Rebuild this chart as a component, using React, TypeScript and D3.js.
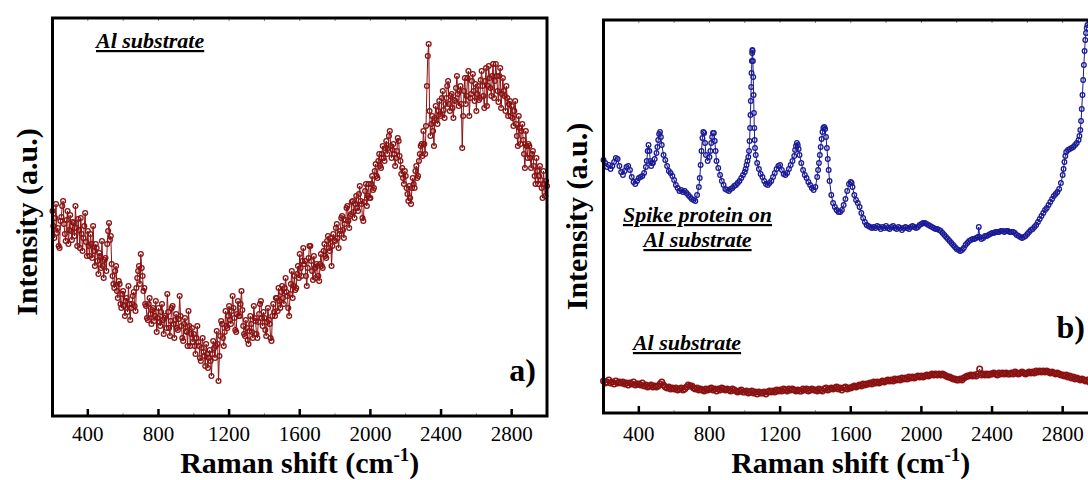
import React from 'react';
import * as d3 from 'd3';

// Raman shift grids (cm-1)
const shiftGridA: number[] = d3.range(200, 3001, 5);
const shiftGridB: number[] = d3.range(200, 3001, 10);
const majorTicks = [400, 800, 1200, 1600, 2000, 2400, 2800];
const minorTicks = [200, 600, 1000, 1400, 1800, 2200, 2600, 3000];
const topTicks = d3.range(200, 3001, 200);

// Panel a) Al substrate intensity (a.u.), one value per shiftGridA entry (rows of 100 cm-1)
const alSubstrateA = [
  205, 190, 178, 198, 212, 183, 188, 170, 168, 195, 199, 210, 215, 192, 182, 175, 196, 205, 172, 186,
  201, 185, 176, 194, 193, 180, 210, 188, 170, 197, 186, 168, 198, 182, 165, 178, 190, 203, 174, 160,
  185, 170, 160, 182, 172, 158, 190, 165, 150, 172, 168, 155, 142, 163, 160, 148, 175, 150, 138, 156,
  158, 145, 172, 185, 193, 176, 180, 152, 140, 132, 128, 145, 150, 125, 118, 135, 132, 112, 108, 122,
  125, 110, 100, 115, 118, 104, 130, 112, 96, 108, 112, 120, 124, 110, 105, 128, 138, 145, 150, 132,
  162, 148, 140, 125, 128, 112, 110, 98, 96, 112, 118, 102, 92, 106, 108, 95, 100, 115, 84, 98,
  108, 94, 90, 104, 112, 96, 82, 98, 100, 88, 122, 104, 88, 80, 95, 108, 110, 92, 78, 96,
  102, 88, 86, 97, 120, 100, 90, 78, 75, 92, 98, 85, 84, 70, 105, 90, 70, 82, 88, 74,
  82, 70, 62, 78, 90, 74, 70, 58, 55, 68, 78, 64, 60, 50, 72, 62, 48, 58, 66, 55,
  40, 62, 75, 68, 58, 70, 85, 72, 35, 60, 80, 95, 92, 78, 70, 84, 105, 90, 88, 100,
  110, 96, 92, 105, 120, 108, 98, 86, 84, 102, 115, 100, 100, 112, 125, 106, 90, 82, 80, 96,
  88, 76, 72, 85, 100, 92, 84, 78, 110, 98, 95, 82, 78, 94, 102, 112, 115, 98, 90, 104,
  98, 86, 80, 94, 108, 96, 92, 78, 75, 100, 112, 104, 100, 118, 118, 105, 128, 115, 108, 124,
  130, 118, 112, 128, 138, 124, 120, 108, 100, 122, 132, 145, 118, 130, 140, 126, 128, 142, 150, 138,
  162, 148, 140, 155, 168, 152, 155, 140, 130, 148, 158, 170, 170, 155, 145, 136, 160, 148, 138, 152,
  150, 140, 135, 152, 162, 150, 148, 165, 172, 160, 158, 175, 180, 168, 165, 178, 150, 170, 182, 176,
  175, 188, 192, 178, 168, 182, 185, 198, 200, 186, 178, 192, 196, 208, 210, 195, 188, 200, 202, 214,
  215, 204, 198, 212, 220, 208, 205, 222, 230, 215, 212, 198, 195, 214, 225, 232, 210, 220, 232, 218,
  218, 232, 240, 226, 228, 245, 252, 240, 238, 255, 262, 250, 248, 262, 270, 258, 255, 268, 275, 262,
  268, 280, 285, 270, 258, 266, 272, 262, 250, 258, 265, 278, 275, 260, 255, 242, 248, 238, 232, 245,
  240, 228, 222, 215, 230, 218, 212, 228, 238, 232, 228, 245, 250, 238, 240, 255, 262, 270, 272, 260,
  285, 272, 262, 290, 330, 360, 372, 305, 280, 292, 300, 285, 270, 298, 310, 296, 292, 305, 315, 302,
  300, 318, 325, 306, 298, 312, 318, 330, 335, 312, 305, 320, 322, 308, 298, 316, 315, 328, 340, 322,
  310, 325, 330, 312, 268, 300, 325, 338, 312, 320, 338, 345, 300, 318, 322, 335, 342, 325, 315, 332,
  305, 322, 330, 316, 318, 336, 345, 330, 320, 308, 335, 348, 310, 330, 350, 338, 328, 320, 340, 352,
  318, 335, 352, 340, 325, 314, 340, 348, 308, 322, 338, 325, 320, 305, 330, 318, 300, 312, 315, 300,
  310, 298, 290, 305, 315, 292, 280, 270, 300, 288, 272, 285, 292, 276, 262, 248, 285, 270, 258, 272,
  270, 258, 248, 262, 265, 250, 240, 232, 258, 245, 232, 240, 250, 236, 228, 218, 245, 232, 220, 235,
  230,
];

// Panel b) Al substrate intensity (a.u.), one value per shiftGridB entry
const alSubstrateB = [
  32, 30, 31, 33, 30, 31, 29, 32, 30, 31,
  30, 31, 29, 30, 28, 30, 29, 31, 28, 29,
  29, 28, 30, 27, 28, 26, 27, 28, 26, 27,
  26, 27, 29, 31, 28, 26, 25, 26, 24, 25,
  24, 25, 23, 24, 25, 23, 24, 26, 28, 27,
  27, 25, 24, 25, 23, 24, 23, 22, 24, 23,
  24, 25, 23, 24, 22, 24, 23, 25, 24, 23,
  24, 23, 22, 24, 23, 22, 21, 22, 23, 21,
  21, 22, 20, 21, 22, 20, 21, 19, 21, 20,
  20, 21, 19, 21, 22, 21, 22, 21, 23, 22,
  23, 22, 24, 23, 22, 24, 23, 24, 23, 22,
  23, 22, 22, 24, 23, 24, 22, 23, 24, 23,
  23, 22, 24, 23, 22, 24, 25, 23, 24, 25,
  24, 25, 26, 24, 25, 23, 25, 26, 24, 25,
  25, 26, 27, 26, 27, 28, 27, 29, 28, 29,
  29, 30, 29, 31, 30, 31, 30, 31, 32, 31,
  32, 33, 32, 33, 32, 34, 33, 34, 33, 35,
  34, 35, 34, 36, 35, 36, 35, 36, 37, 36,
  37, 36, 37, 38, 37, 38, 39, 38, 39, 38,
  39, 38, 39, 38, 37, 36, 36, 35, 34, 34,
  33, 33, 34, 33, 35, 36, 37, 37, 38, 37,
  38, 37, 39, 44, 38, 39, 38, 39, 38, 39,
  39, 40, 39, 38, 40, 39, 40, 39, 40, 39,
  39, 40, 39, 41, 40, 39, 40, 41, 40, 39,
  40, 41, 40, 41, 40, 42, 41, 42, 41, 42,
  41, 42, 41, 40, 41, 40, 39, 40, 39, 38,
  38, 37, 38, 36, 37, 35, 36, 34, 35, 34,
  33, 34, 33, 32, 33, 31, 32, 31, 32, 30,
  31,
];

// Panel b) Spike protein on Al substrate: [Raman shift, intensity]
const spikeProtein: [number, number][] = [
  [200, 253], [210, 250], [220, 246], [230, 248], [240, 244], [250, 247], [260, 251], [270, 255],
  [280, 254], [290, 247], [300, 241], [310, 238], [320, 242], [330, 246], [340, 247], [350, 243],
  [360, 236], [370, 231], [380, 229], [390, 232], [400, 235], [410, 236], [420, 237], [430, 240],
  [440, 246], [445, 252], [450, 262], [455, 268], [460, 262], [465, 252], [470, 247], [475, 250],
  [480, 250], [490, 254], [500, 260], [505, 266], [510, 273], [515, 279], [520, 281], [525, 276],
  [530, 268], [540, 258], [550, 253], [560, 247], [570, 242], [580, 240], [590, 237], [600, 233],
  [610, 228], [620, 225], [630, 222], [640, 223], [650, 221], [660, 222], [670, 220], [680, 218],
  [690, 216], [700, 214], [710, 213], [720, 212], [730, 218], [740, 226], [745, 235], [750, 248],
  [755, 262], [760, 275], [765, 281], [770, 280], [775, 270], [780, 258], [790, 252], [800, 256],
  [805, 262], [810, 270], [815, 276], [820, 280], [825, 280], [830, 272], [835, 262], [840, 252],
  [850, 245], [860, 238], [870, 232], [880, 228], [890, 224], [900, 223], [910, 222], [920, 224],
  [930, 225], [940, 227], [950, 228], [960, 230], [970, 232], [980, 235], [990, 238], [1000, 241],
  [1005, 244], [1010, 248], [1015, 252], [1020, 256], [1024, 262], [1027, 272], [1030, 285],
  [1032, 298], [1034, 312], [1036, 326], [1038, 340], [1040, 352], [1042, 360], [1043, 363],
  [1044, 362], [1046, 352], [1048, 336], [1050, 318], [1052, 300], [1054, 285], [1056, 273],
  [1058, 265], [1062, 258], [1070, 250], [1080, 244], [1090, 239], [1100, 236], [1110, 232],
  [1120, 229], [1130, 228], [1140, 230], [1150, 232], [1160, 236], [1170, 240], [1180, 244],
  [1190, 247], [1200, 248], [1210, 243], [1220, 239], [1230, 238], [1240, 240], [1250, 244],
  [1260, 248], [1270, 252], [1280, 257], [1285, 263], [1290, 267], [1295, 270], [1300, 268],
  [1305, 264], [1310, 258], [1320, 250], [1330, 243], [1340, 238], [1350, 235], [1360, 231],
  [1370, 228], [1380, 225], [1390, 223], [1400, 226], [1410, 236], [1415, 243], [1420, 250],
  [1425, 258], [1430, 266], [1435, 274], [1440, 281], [1445, 285], [1450, 286], [1455, 284],
  [1460, 276], [1465, 265], [1470, 254], [1475, 243], [1480, 232], [1490, 218], [1500, 210],
  [1510, 206], [1520, 203], [1530, 201], [1540, 201], [1550, 203], [1560, 208], [1570, 214],
  [1580, 222], [1590, 229], [1600, 231], [1605, 230], [1610, 226], [1620, 218], [1630, 213],
  [1640, 210], [1650, 206], [1660, 200], [1670, 195], [1680, 191], [1690, 188], [1700, 187],
  [1710, 186], [1720, 185], [1730, 186], [1740, 185], [1750, 187], [1760, 186], [1770, 184],
  [1780, 186], [1790, 185], [1800, 187], [1810, 185], [1820, 184], [1830, 186], [1840, 187],
  [1850, 185], [1860, 184], [1870, 186], [1880, 185], [1890, 183], [1900, 185], [1910, 186],
  [1920, 185], [1930, 184], [1940, 186], [1950, 187], [1960, 186], [1970, 185], [1980, 186],
  [1990, 188], [2000, 189], [2010, 190], [2020, 190], [2030, 189], [2040, 188], [2050, 187],
  [2060, 186], [2070, 185], [2080, 184], [2090, 184], [2100, 183], [2110, 182], [2120, 180],
  [2130, 178], [2140, 176], [2150, 174], [2160, 172], [2170, 170], [2180, 168], [2190, 166],
  [2200, 164], [2210, 163], [2220, 162], [2230, 163], [2240, 165], [2250, 168], [2260, 170],
  [2270, 172], [2280, 173], [2290, 174], [2300, 174], [2310, 175], [2320, 176], [2325, 186],
  [2330, 176], [2340, 174], [2350, 175], [2360, 177], [2370, 177], [2380, 178], [2390, 179],
  [2400, 180], [2410, 180], [2420, 181], [2430, 181], [2440, 181], [2450, 182], [2460, 182],
  [2470, 181], [2480, 182], [2490, 182], [2500, 181], [2510, 181], [2520, 181], [2530, 180],
  [2540, 178], [2550, 177], [2560, 176], [2570, 175], [2580, 176], [2590, 177], [2600, 179],
  [2610, 181], [2620, 183], [2630, 184], [2640, 186], [2650, 188], [2660, 191], [2670, 194],
  [2680, 197], [2690, 200], [2700, 203], [2710, 205], [2720, 208], [2730, 211], [2740, 214],
  [2750, 217], [2760, 219], [2770, 221], [2780, 224], [2790, 230], [2800, 238], [2805, 244],
  [2810, 251], [2815, 257], [2820, 261], [2830, 263], [2840, 264], [2850, 265], [2860, 266],
  [2870, 268], [2880, 270], [2890, 273], [2895, 277], [2900, 283], [2904, 292], [2908, 304],
  [2912, 318], [2916, 333], [2920, 348], [2924, 362], [2928, 373], [2932, 380], [2936, 385],
  [2940, 388], [2950, 390], [2960, 385], [2970, 370], [2980, 350], [2990, 330], [3000, 310],
];

const FONT = "'Liberation Serif', 'Times New Roman', Times, serif";
const RED = '#8a1212';
const BLUE = '#1a1a96';

type Pt = [number, number];

function Series({ data, x, y, color, r = 2.3, sw = 1 }: { data: Pt[]; x: any; y: any; color: string; r?: number; sw?: number }) {
  const line = d3.line<Pt>().x(d => x(d[0])).y(d => y(d[1]));
  return (
    <g>
      <path d={line(data) || ''} fill="none" stroke={color} strokeWidth={1} />
      {data.map((d, i) => (
        <circle key={i} cx={x(d[0])} cy={y(d[1])} r={r} fill="none" stroke={color} strokeWidth={sw} />
      ))}
    </g>
  );
}

function Axes({ x, yTop, yBot, x0, x1 }: { x: any; yTop: number; yBot: number; x0: number; x1: number }) {
  return (
    <g>
      {topTicks.map(t => (
        <line key={'t' + t} x1={x(t)} x2={x(t)} y1={yTop} y2={yTop + 3} stroke="#888" strokeWidth={1} />
      ))}
      {minorTicks.map(t => (
        <line key={'m' + t} x1={x(t)} x2={x(t)} y1={yBot} y2={yBot - 3} stroke="#999" strokeWidth={1} />
      ))}
      {majorTicks.map(t => (
        <line key={'M' + t} x1={x(t)} x2={x(t)} y1={yBot} y2={yBot - 7} stroke="#000" strokeWidth={2.5} />
      ))}
      <rect x={x0} y={yTop} width={x1 - x0} height={yBot - yTop} fill="none" stroke="#000" strokeWidth={3} />
      {majorTicks.map(t => (
        <text key={'l' + t} x={x(t)} y={441} textAnchor="middle" fontSize={21} fontFamily={FONT}>
          {t}
        </text>
      ))}
      <text x={(x0 + x1) / 2} y={473} textAnchor="middle" fontSize={30} fontWeight="bold" fontFamily={FONT}>
        Raman shift (cm
        <tspan fontSize={19} dy={-12}>-1</tspan>
        <tspan dy={12}>)</tspan>
      </text>
    </g>
  );
}

export default function App() {
  // panel a
  const aX0 = 52.5, aX1 = 547, aTop = 18, aBot = 416;
  const xa = d3.scaleLinear().domain([200, 3000]).range([aX0, aX1]);
  const ya = d3.scaleLinear().domain([0, 398]).range([aBot, aTop]);
  // panel b
  const bX0 = 603.5, bX1 = 1098, bTop = 20, bBot = 413;
  const xb = d3.scaleLinear().domain([200, 3000]).range([bX0, bX1]);
  const yb = d3.scaleLinear().domain([0, 393]).range([bBot, bTop]);

  const dataA: Pt[] = shiftGridA.map((s, i) => [s, alSubstrateA[i]]);
  const dataB: Pt[] = shiftGridB.map((s, i) => [s, alSubstrateB[i]]);

  const labelStyle = { fontSize: 22, fontWeight: 'bold' as const, fontStyle: 'italic' as const, fontFamily: FONT };

  return (
    <svg width={1088} height={480} style={{ position: 'absolute', left: 0, top: 0, background: '#fff' }}>
      {/* Panel a */}
      <Series data={dataA} x={xa} y={ya} color={RED} r={2.4} sw={1.3} />
      <Axes x={xa} yTop={aTop} yBot={aBot} x0={aX0} x1={aX1} />
      <text transform={`translate(37,222) rotate(-90)`} textAnchor="middle" fontSize={30} fontWeight="bold" fontFamily={FONT}>
        Intensity (a.u.)
      </text>
      <text x={96} y={48} {...labelStyle} textDecoration="underline">Al substrate</text>
      <text x={536} y={381} textAnchor="end" fontSize={32} fontWeight="bold" fontFamily={FONT}>a)</text>

      {/* Panel b */}
      <Series data={dataB} x={xb} y={yb} color={RED} r={2.7} sw={1.6} />
      <Series data={spikeProtein} x={xb} y={yb} color={BLUE} r={2.3} sw={1.3} />
      <Axes x={xb} yTop={bTop} yBot={bBot} x0={bX0} x1={bX1} />
      <text transform={`translate(587,${(bTop + bBot) / 2}) rotate(-90)`} textAnchor="middle" fontSize={30} fontWeight="bold" fontFamily={FONT}>
        Intensity (a.u.)
      </text>
      <text x={697.5} y={222} textAnchor="middle" {...labelStyle} textDecoration="underline">Spike protein on</text>
      <text x={697.5} y={247} textAnchor="middle" {...labelStyle} textDecoration="underline">Al substrate</text>
      <text x={687} y={350} textAnchor="middle" {...labelStyle} textDecoration="underline">Al substrate</text>
      <text x={1085} y={338} textAnchor="end" fontSize={32} fontWeight="bold" fontFamily={FONT}>b)</text>
    </svg>
  );
}
